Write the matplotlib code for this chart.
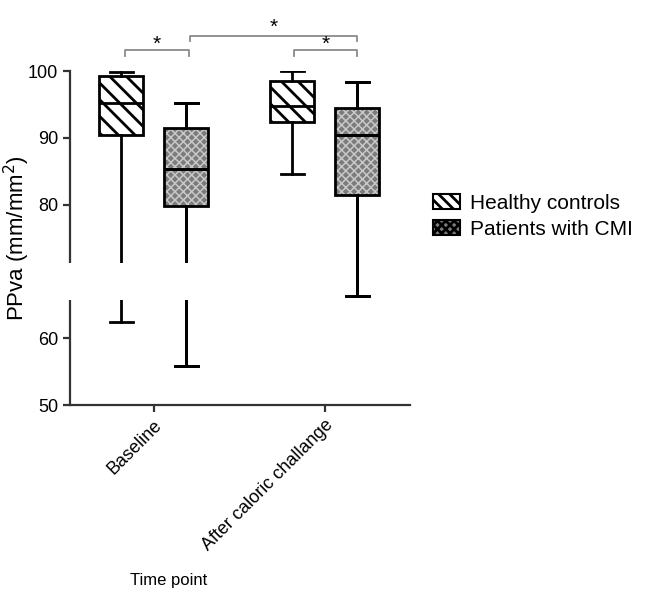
import matplotlib
matplotlib.use('Agg')
import matplotlib.pyplot as plt
from matplotlib.patches import Patch, Rectangle

plt.rcParams['font.family'] = ['Liberation Sans', 'DejaVu Sans']
plt.rcParams['hatch.linewidth'] = 2.0

# data
groups = ['Baseline', 'After caloric challange']
healthy_lo = [62.4, 84.6]
healthy_q1 = [90.5, 92.4]
healthy_med = [95.2, 94.8]
healthy_q3 = [99.3, 98.6]
healthy_hi = [99.8, 100.0]

cmi_lo = [55.8, 66.4]
cmi_q1 = [79.8, 81.4]
cmi_med = [85.3, 90.4]
cmi_q3 = [91.5, 94.5]
cmi_hi = [95.2, 98.4]

series_names = ['Healthy controls', 'Patients with CMI']


def make_stats(lo, q1, med, q3, hi):
    return [dict(whislo=a, q1=b, med=c, q3=d, whishi=e, fliers=[])
            for a, b, c, d, e in zip(lo, q1, med, q3, hi)]


def thin_hatch(patch, lw):
    # per-patch hatch width when the installed matplotlib allows it
    if hasattr(patch, 'set_hatch_linewidth'):
        patch.set_hatch_linewidth(lw)


fig = plt.figure(figsize=(6.47, 5.93), dpi=100)
ax = fig.add_axes([0.108, 0.317, 0.526, 0.563])

x = list(range(len(groups)))
off = 0.19
w = 0.26
lw = 2.0
line = dict(color='black', linewidth=lw)
grey_fill = '#7c7c7c'
grey_hatch = '#c8c8c8'

# healthy: white with black diagonal hatch
pos_h = [i - off for i in x]
bp = ax.bxp(make_stats(healthy_lo, healthy_q1, healthy_med, healthy_q3, healthy_hi),
            positions=pos_h, widths=w, capwidths=0.135, patch_artist=True,
            showfliers=False, boxprops=dict(facecolor='white', edgecolor='black', linewidth=lw),
            medianprops=line, whiskerprops=line, capprops=line)
for b in bp['boxes']:
    b.set_hatch('\\\\')

# patients: grey with light cross texture, then black outline on top
pos_c = [i + off for i in x]
cmi_stats = make_stats(cmi_lo, cmi_q1, cmi_med, cmi_q3, cmi_hi)
bp2 = ax.bxp(cmi_stats, positions=pos_c, widths=w, capwidths=0.135, patch_artist=True,
             showfliers=False, boxprops=dict(facecolor=grey_fill, edgecolor=grey_hatch, linewidth=0),
             medianprops=line, whiskerprops=line, capprops=line)
for b in bp2['boxes']:
    b.set_hatch('xxxx')
    thin_hatch(b, 1.1)
ax.bxp(cmi_stats, positions=pos_c, widths=w, capwidths=0.135, patch_artist=True,
       showfliers=False, boxprops=dict(facecolor='none', edgecolor='black', linewidth=lw),
       medianprops=line, whiskerprops=line, capprops=line)

ax.set_xlim(-0.49, 1.5)
ax.set_ylim(50, 100)
ax.set_yticks([50, 60, 80, 90, 100])
ax.set_xticks(x)
ax.set_xticklabels(groups, rotation=45, ha='right', rotation_mode='anchor', fontsize=13)
ax.tick_params(axis='y', labelsize=13, width=1.6, length=5, color='#333333')
ax.tick_params(axis='x', width=1.6, length=5, color='#333333')
for s in ['top', 'right']:
    ax.spines[s].set_visible(False)
for s in ['left', 'bottom']:
    ax.spines[s].set_linewidth(1.6)
    ax.spines[s].set_color('#333333')
ax.set_ylabel('PPva (mm/mm$^2$)', fontsize=16)
ax.yaxis.set_label_coords(-0.11, 0.5)

# axis break (white band across the low part)
ax.add_patch(Rectangle((-0.56, 65.7), 0.87, 5.6, facecolor='white', edgecolor='none',
                       zorder=10, clip_on=False))

# significance brackets
gc = '#8a8a8a'
def bracket(x0, x1, y, drop, star_y):
    ax.plot([x0, x0, x1, x1], [y - drop, y, y, y - drop], color=gc, lw=1.3, clip_on=False)
    ax.text((x0 + x1) / 2, star_y, '*', ha='center', va='center', fontsize=15, clip_on=False)

bracket(-0.17, 0.205, 103.1, 0.9, 104.0)
bracket(0.21, 1.19, 105.2, 0.7, 106.6)
bracket(0.82, 1.19, 103.1, 0.9, 104.0)

# legend
handles = [Patch(facecolor='white', edgecolor='black', hatch='\\\\\\', linewidth=1.5),
           Patch(facecolor=grey_fill, edgecolor='black', hatch='xxxx', linewidth=1.5)]
fig.legend(handles, series_names, loc='upper left', bbox_to_anchor=(0.64, 0.705),
           frameon=False, fontsize=15, handlelength=1.3, handleheight=0.7,
           handletextpad=0.5, labelspacing=0.35)

fig.text(130 / 647, 1 - 580 / 593, 'Time point', fontsize=12, va='center')

fig.savefig('out.png', dpi=100)
